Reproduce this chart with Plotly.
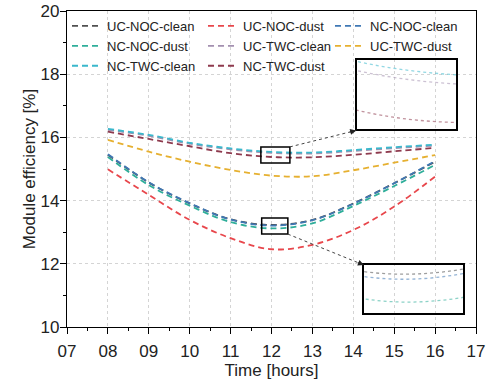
import plotly.graph_objects as go

hours = [8, 9, 10, 11, 12, 13, 14, 15, 16]
tick_vals = [7, 8, 9, 10, 11, 12, 13, 14, 15, 16, 17]
tick_text = ["07", "08", "09", "10", "11", "12", "13", "14", "15", "16", "17"]

uc_noc_clean = [15.45, 14.57, 13.91, 13.41, 13.23, 13.39, 13.91, 14.55, 15.23]
uc_noc_dust = [14.99, 14.18, 13.39, 12.81, 12.46, 12.60, 13.07, 13.81, 14.76]
nc_noc_clean = [15.47, 14.58, 13.92, 13.40, 13.21, 13.38, 13.90, 14.55, 15.25]
nc_noc_dust = [15.38, 14.49, 13.84, 13.32, 13.12, 13.28, 13.83, 14.46, 15.13]
uc_twc_clean = [16.24, 16.05, 15.80, 15.62, 15.51, 15.49, 15.57, 15.66, 15.74]
uc_twc_dust = [15.92, 15.55, 15.23, 14.97, 14.79, 14.77, 14.96, 15.20, 15.44]
nc_twc_clean = [16.27, 16.08, 15.83, 15.65, 15.54, 15.52, 15.60, 15.69, 15.77]
nc_twc_dust = [16.18, 15.95, 15.72, 15.50, 15.38, 15.37, 15.45, 15.56, 15.67]

names = ["UC-NOC-clean", "UC-NOC-dust", "NC-NOC-clean", "NC-NOC-dust",
         "UC-TWC-clean", "UC-TWC-dust", "NC-TWC-clean", "NC-TWC-dust"]
series = [uc_noc_clean, uc_noc_dust, nc_noc_clean, nc_noc_dust,
          uc_twc_clean, uc_twc_dust, nc_twc_clean, nc_twc_dust]
colors = ["#505050", "#e8474c", "#3f78b5", "#2fae9a",
          "#a390b0", "#e6b030", "#3ab8cc", "#8e3a4e"]
legend_cols = ["legend", "legend2", "legend3", "legend", "legend2", "legend3", "legend", "legend2"]

FONT = "Liberation Sans, Arial, Helvetica, sans-serif"

fig = go.Figure()
for n, s, c, lg in zip(names, series, colors, legend_cols):
    fig.add_trace(go.Scatter(x=hours, y=s, name=n, mode="lines", legend=lg,
                             line=dict(color=c, width=1.8, dash="6px,4px", shape="spline")))
# inset copies
for n, s, c in zip(names, series, colors):
    for xa, ya in (("x2", "y2"), ("x3", "y3")):
        fig.add_trace(go.Scatter(x=hours, y=s, mode="lines", showlegend=False, opacity=0.55,
                                 xaxis=xa, yaxis=ya, hoverinfo="skip",
                                 line=dict(color=c, width=1.3, dash="3px,3px", shape="spline")))

axis_common = dict(showline=True, linecolor="black", linewidth=1.3, mirror=True, automargin=False,
                   ticks="outside", ticklen=6, tickwidth=1.2, tickcolor="black",
                   showgrid=True, gridcolor="#d4d4d4", griddash="dot", gridwidth=1,
                   zeroline=False, tickfont=dict(size=17, color="#222", family=FONT),
                   title_font=dict(size=17, color="#222", family=FONT))
inset_common = dict(showline=True, mirror=True, linecolor="black", linewidth=1.6, automargin=False,
                    showticklabels=False, ticks="", showgrid=False, zeroline=False)
legend_common = dict(orientation="v", yanchor="top", y=1.0, xanchor="left",
                     bgcolor="rgba(0,0,0,0)", font=dict(size=13, color="#222", family=FONT))

fig.update_layout(
    width=486, height=380,
    margin=dict(l=67, r=10, t=11, b=53, autoexpand=False),
    paper_bgcolor="white", plot_bgcolor="rgba(0,0,0,0)",
    font=dict(family=FONT, color="#222"),
    xaxis=dict(range=[7, 17], tickvals=tick_vals, ticktext=tick_text, ticklabelstandoff=2,
               minor=dict(dtick=0.5, tick0=7, ticks="outside", ticklen=3, tickcolor="black", showgrid=False),
               title=dict(text="Time [hours]", standoff=0), **axis_common),
    yaxis=dict(range=[10, 20], dtick=2, tick0=10, ticklabelstandoff=-3,
               minor=dict(dtick=1, tick0=10, ticks="outside", ticklen=3, tickcolor="black", showgrid=False),
               title=dict(text="Module efficiency [%]", standoff=0), **axis_common),
    xaxis2=dict(domain=[0.709, 0.951], anchor="y2", range=[11.72, 12.48], **inset_common),
    yaxis2=dict(domain=[0.627, 0.845], anchor="x2", range=[15.342, 15.567], **inset_common),
    xaxis3=dict(domain=[0.726, 0.968], anchor="y3", range=[11.8, 12.36], **inset_common),
    yaxis3=dict(domain=[0.044, 0.196], anchor="x3", range=[13.076, 13.266], **inset_common),
    legend=dict(x=0.0, **legend_common),
    legend2=dict(x=0.3325, **legend_common),
    legend3=dict(x=0.643, **legend_common),
    showlegend=True,
)

# zoom rectangles on main plot
fig.add_shape(type="rect", x0=11.74, x1=12.45, y0=15.19, y1=15.70, xref="x", yref="y",
              line=dict(color="black", width=1.5))
fig.add_shape(type="rect", x0=11.76, x1=12.40, y0=12.94, y1=13.45, xref="x", yref="y",
              line=dict(color="black", width=1.5))
# dotted connectors
fig.add_shape(type="line", x0=12.45, y0=15.70, x1=14.07, y1=16.22, xref="x", yref="y",
              line=dict(color="#444", width=1, dash="dot"))
fig.add_shape(type="line", x0=12.40, y0=12.94, x1=14.26, y1=11.96, xref="x", yref="y",
              line=dict(color="#444", width=1, dash="dot"))
fig.add_annotation(x=14.07, y=16.22, xref="x", yref="y", ax=-8, ay=2, text="", showarrow=True,
                   arrowhead=2, arrowsize=1.2, arrowwidth=1, arrowcolor="#222")
fig.add_annotation(x=14.26, y=11.96, xref="x", yref="y", ax=-7.5, ay=-3, text="", showarrow=True,
                   arrowhead=2, arrowsize=1.2, arrowwidth=1, arrowcolor="#222")

fig.write_html("out.html", config={"displayModeBar": False},
               post_script="document.body.style.margin='0';")
